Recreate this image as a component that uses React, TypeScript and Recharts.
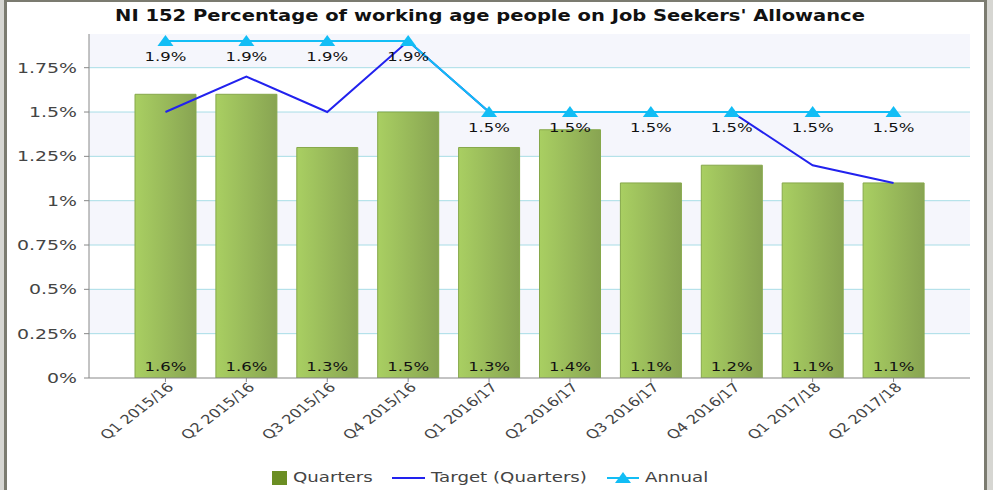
import { Bar, CartesianGrid, ComposedChart, LabelList, Line, XAxis, YAxis } from "recharts";

const quarters = [
  "Q1 2015/16",
  "Q2 2015/16",
  "Q3 2015/16",
  "Q4 2015/16",
  "Q1 2016/17",
  "Q2 2016/17",
  "Q3 2016/17",
  "Q4 2016/17",
  "Q1 2017/18",
  "Q2 2017/18",
];
const quarterValues = [1.6, 1.6, 1.3, 1.5, 1.3, 1.4, 1.1, 1.2, 1.1, 1.1];
const targetValues = [1.5, 1.7, 1.5, 1.9, 1.5, 1.5, 1.5, 1.5, 1.2, 1.1];
const annualValues = [1.9, 1.9, 1.9, 1.9, 1.5, 1.5, 1.5, 1.5, 1.5, 1.5];
const yTicks = [0, 0.25, 0.5, 0.75, 1, 1.25, 1.5, 1.75];

const data = quarters.map((label, i) => ({
  label,
  quarters: quarterValues[i],
  target: targetValues[i],
  annual: annualValues[i],
}));

// the source picture is stretched sideways, so text gets a horizontal scale
const FONT = "'DejaVu Sans', Verdana, sans-serif";
const STRETCH = 1.3;
const ANNUAL = "#12bdf5";
const TARGET = "#2222ee";

function Triangle({ cx, cy }: { cx?: number; cy?: number }) {
  if (cx == null || cy == null) return null;
  return <path d={`M${cx - 8},${cy + 5} L${cx},${cy - 6} L${cx + 8},${cy + 5} Z`} fill={ANNUAL} />;
}

function AngledTick({ x, y, payload }: { x?: number; y?: number; payload?: { value: string } }) {
  return (
    <g transform={`translate(${x},${y}) scale(${STRETCH},1) rotate(-45)`}>
      <text x={2} y={0} dy={8} textAnchor="end" fill="#444" fontSize={12.5} fontFamily={FONT}>
        {payload?.value}
      </text>
    </g>
  );
}

function YTick({ x, y, payload }: { x?: number; y?: number; payload?: { value: number } }) {
  return (
    <g transform={`translate(${(x ?? 0) - 5},${y}) scale(1.35,1)`}>
      <text x={0} y={0} dy="0.36em" textAnchor="end" fill="#444" fontSize={14} fontFamily={FONT}>
        {`${payload?.value}%`}
      </text>
    </g>
  );
}

type LabelProps = { x?: number | string; y?: number | string; width?: number | string; height?: number | string; value?: unknown };

function BarValue(props: LabelProps) {
  const x = Number(props.x) + Number(props.width) / 2;
  const y = Number(props.y) + Number(props.height) - 7;
  return (
    <g transform={`translate(${x},${y}) scale(1.27,1)`}>
      <text textAnchor="middle" fill="#111" fontSize={13} fontFamily={FONT}>
        {`${props.value}%`}
      </text>
    </g>
  );
}

function AnnualValue(props: LabelProps) {
  const x = Number(props.x);
  const y = Number(props.y) + 20;
  return (
    <g transform={`translate(${x},${y}) scale(1.27,1)`}>
      <text textAnchor="middle" fill="#111" fontSize={13} fontFamily={FONT}>
        {`${props.value}%`}
      </text>
    </g>
  );
}

function LegendText({ x, children }: { x: number; children: string }) {
  return (
    <g transform={`translate(${x},15) scale(${STRETCH},1)`}>
      <text fill="#444" fontSize={14} fontFamily={FONT}>
        {children}
      </text>
    </g>
  );
}

export default function App() {
  return (
    <div style={{ position: "absolute", left: 0, top: 0, width: 993, height: 490, background: "#d6d6d2", overflow: "hidden" }}>
      <div style={{ position: "absolute", left: 7, top: 0, width: 977, height: 490, background: "#fff" }} />
      <div style={{ position: "absolute", left: 0, top: 0 }}>
        <ComposedChart width={993} height={460} data={data} margin={{ top: 34, right: 23, bottom: 40, left: 0 }} barCategoryGap={10}>
          <defs>
            <linearGradient id="barGrad" x1="0" y1="0" x2="1" y2="0">
              <stop offset="0%" stopColor="#a9cf62" />
              <stop offset="100%" stopColor="#88a452" />
            </linearGradient>
          </defs>
          <CartesianGrid
            vertical={false}
            stroke="#a8dde6"
            horizontalValues={yTicks.slice(1)}
            horizontalFill={["#f5f6fc", "#ffffff"]}
          />
          <XAxis
            dataKey="label"
            interval={0}
            padding={{ left: 36, right: 36 }}
            tick={<AngledTick />}
            tickLine={{ stroke: "#888" }}
            tickSize={4}
            axisLine={{ stroke: "#888" }}
            height={42}
          />
          <YAxis
            width={89}
            domain={[0, 1.94]}
            ticks={yTicks}
            allowDataOverflow
            tick={<YTick />}
            tickLine={{ stroke: "#888" }}
            tickSize={5}
            axisLine={{ stroke: "#888" }}
          />
          <Bar dataKey="quarters" fill="url(#barGrad)" stroke="#86a84a" strokeWidth={1} isAnimationActive={false}>
            <LabelList dataKey="quarters" content={<BarValue />} />
          </Bar>
          <Line dataKey="target" stroke={TARGET} strokeWidth={2} dot={false} activeDot={false} isAnimationActive={false} />
          <Line dataKey="annual" stroke={ANNUAL} strokeWidth={2} dot={<Triangle />} activeDot={false} isAnimationActive={false}>
            <LabelList dataKey="annual" content={<AnnualValue />} />
          </Line>
        </ComposedChart>
      </div>
      <div
        style={{
          position: "absolute",
          left: 7,
          top: 0,
          width: 977,
          height: 34,
          background: "#fff",
        }}
      />
      <div
        style={{
          position: "absolute",
          left: 0,
          top: 7,
          width: 980,
          textAlign: "center",
          fontFamily: FONT,
          fontWeight: "bold",
          fontSize: 15,
          lineHeight: "18px",
          color: "#111",
          transform: `scaleX(${STRETCH})`,
          transformOrigin: "490px 0",
        }}
      >
        NI 152 Percentage of working age people on Job Seekers&apos; Allowance
      </div>
      <svg width={993} height={22} style={{ position: "absolute", left: 0, top: 467 }}>
        <rect x={272} y={4} width={15} height={14} fill="#6b8e23" />
        <LegendText x={293}>Quarters</LegendText>
        <line x1={392} y1={11} x2={425} y2={11} stroke={TARGET} strokeWidth={2} />
        <LegendText x={431}>Target (Quarters)</LegendText>
        <line x1={607} y1={11} x2={639} y2={11} stroke={ANNUAL} strokeWidth={2} />
        <path d="M615,16 L623,5 L631,16 Z" fill={ANNUAL} />
        <LegendText x={645}>Annual</LegendText>
      </svg>
      <div
        style={{
          position: "absolute",
          left: 4,
          top: 0,
          width: 983,
          height: 490,
          borderLeft: "3px solid #7b7b70",
          borderTop: "2px solid #7b7b70",
          borderRight: "3px solid #7b7b70",
          boxSizing: "border-box",
          pointerEvents: "none",
        }}
      />
    </div>
  );
}
